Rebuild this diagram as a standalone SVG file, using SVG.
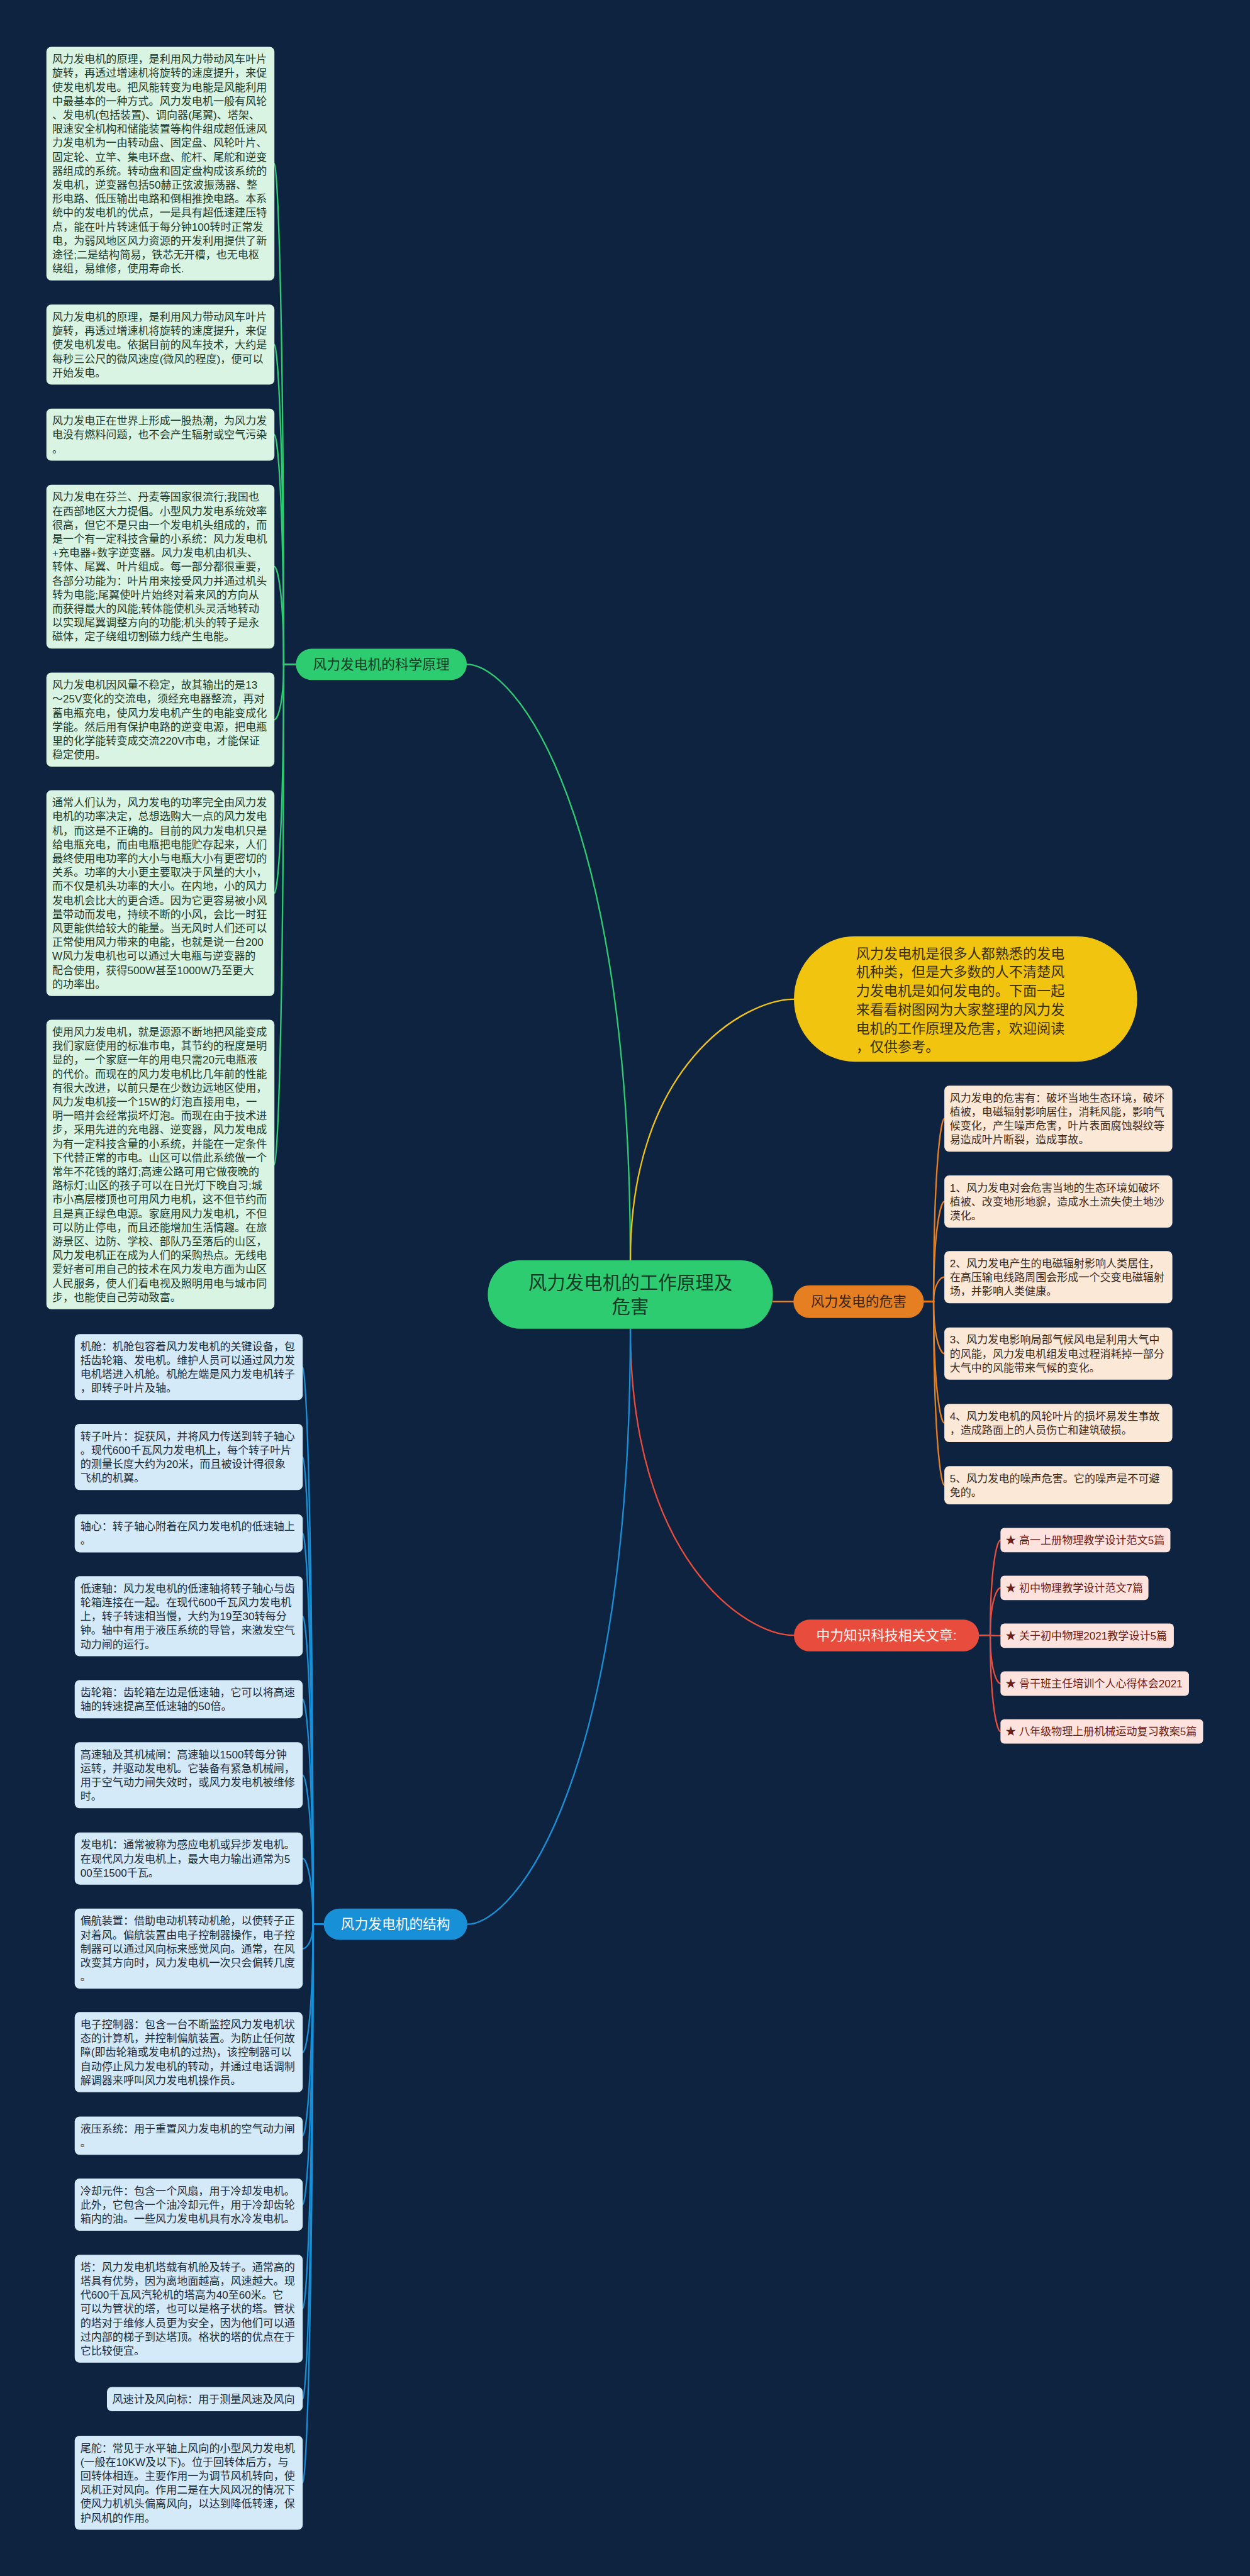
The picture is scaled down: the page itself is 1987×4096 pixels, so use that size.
<svg xmlns="http://www.w3.org/2000/svg" width="1987" height="4096" viewBox="0 0 1987 4096">
<style>
text{font-family:"Liberation Sans","Noto Sans CJK SC",sans-serif}
.c{fill:none;stroke-width:3;stroke-linecap:round}
.cg{stroke:#2ecc71}.cy{stroke:#f1c40f}.co{stroke:#e67e22}.cr{stroke:#e74c3c}.cb{stroke:#1890d8}
.bs{fill:#daf4e4}.bh{fill:#fce8d6}.bt{fill:#d4eaf8}.ba{fill:#fde2dd}
.ts{font-size:22px;fill:#1d3a2a}.th{font-size:22px;fill:#3b2a1c}.tt{font-size:22px;fill:#1b2b3b}.ta{font-size:22px;fill:#6d1b14}
.l1{font-size:28px;text-anchor:middle}
</style>
<rect width="1987" height="4096" fill="#0d2340"/>
<g transform="scale(0.77617)">
<g id="connectors">
<path class="c cg" d="M1291 2582 C1291 1666 1056.5 1361 956 1361"/>
<path class="c cy" d="M1291 2582 C1291 2180.75 1525.5 2047 1626 2047"/>
<path class="c co" d="M1583 2666.5 L1625 2666.5"/>
<path class="c cr" d="M1291 2722 C1291 3193 1525.5 3350 1626 3350"/>
<path class="c cb" d="M1291 2722 C1291 3637 1057 3942 957 3942"/>
<g stroke-width="2.5">
<path class="c cg" d="M606 1361 L581 1361 C581 591.7 567.7 335.3 562 335.3"/>
<path class="c cg" d="M606 1361 L581 1361 C581 869.75 567.7 706 562 706"/>
<path class="c cg" d="M606 1361 L581 1361 C581 1008.05 567.7 890.4 562 890.4"/>
<path class="c cg" d="M606 1361 L581 1361 C581 1210.85 567.7 1160.8 562 1160.8"/>
<path class="c cg" d="M606 1361 L581 1361 C581 1446 567.7 1474.3 562 1474.3"/>
<path class="c cg" d="M606 1361 L581 1361 C581 1712.5 567.7 1829.7 562 1829.7"/>
<path class="c cg" d="M606 1361 L581 1361 C581 2129.4 567.7 2385.5 562 2385.5"/>
<path class="c co" d="M1892 2666.5 L1912 2666.5 C1912 2385.3 1927.4 2291.7 1934 2291.7"/>
<path class="c co" d="M1892 2666.5 L1912 2666.5 C1912 2512.55 1927.4 2461.4 1934 2461.4"/>
<path class="c co" d="M1892 2666.5 L1912 2666.5 C1912 2628.8 1927.4 2616.4 1934 2616.4"/>
<path class="c co" d="M1892 2666.5 L1912 2666.5 C1912 2746.2 1927.4 2772.9 1934 2772.9"/>
<path class="c co" d="M1892 2666.5 L1912 2666.5 C1912 2852.8 1927.4 2915.1 1934 2915.1"/>
<path class="c co" d="M1892 2666.5 L1912 2666.5 C1912 2948.5 1927.4 3042.7 1934 3042.7"/>
<path class="c cr" d="M2005 3350 L2028 3350 C2028 3203.75 2042.7 3155 2049 3155"/>
<path class="c cr" d="M2005 3350 L2028 3350 C2028 3277.25 2042.7 3253 2049 3253"/>
<path class="c cr" d="M2005 3350 L2028 3350 C2028 3350.75 2042.7 3351 2049 3351"/>
<path class="c cr" d="M2005 3350 L2028 3350 C2028 3424.25 2042.7 3449 2049 3449"/>
<path class="c cr" d="M2005 3350 L2028 3350 C2028 3497.75 2042.7 3547 2049 3547"/>
<path class="c cb" d="M663 3942 L641 3942 C641 3086 626.3 2800.7 620 2800.7"/>
<path class="c cb" d="M663 3942 L641 3942 C641 3224 626.3 2984.7 620 2984.7"/>
<path class="c cb" d="M663 3942 L641 3942 C641 3341.3 626.3 3141.1 620 3141.1"/>
<path class="c cb" d="M663 3942 L641 3942 C641 3468.75 626.3 3311 620 3311"/>
<path class="c cb" d="M663 3942 L641 3942 C641 3596.3 626.3 3481.1 620 3481.1"/>
<path class="c cb" d="M663 3942 L641 3942 C641 3713 626.3 3636.7 620 3636.7"/>
<path class="c cb" d="M663 3942 L641 3942 C641 3841.05 626.3 3807.4 620 3807.4"/>
<path class="c cb" d="M663 3942 L641 3942 C641 3979.5 626.3 3992 620 3992"/>
<path class="c cb" d="M663 3942 L641 3942 C641 4138.5 626.3 4204 620 4204"/>
<path class="c cb" d="M663 3942 L641 3942 C641 4266.8 626.3 4375.1 620 4375.1"/>
<path class="c cb" d="M663 3942 L641 3942 C641 4372.8 626.3 4516.4 620 4516.4"/>
<path class="c cb" d="M663 3942 L641 3942 C641 4532.7 626.3 4729.6 620 4729.6"/>
<path class="c cb" d="M663 3942 L641 3942 C641 4671.6 626.3 4914.8 620 4914.8"/>
<path class="c cb" d="M663 3942 L641 3942 C641 4800.2 626.3 5086.3 620 5086.3"/>
</g>
</g>

<g id="node-root">
<rect x="999" y="2582" width="584" height="140" rx="65" ry="70" fill="#2ecc71"/>
<text x="1291" y="2641" font-size="38" text-anchor="middle" fill="#173b26">风力发电机的工作原理及</text>
<text x="1291" y="2690" font-size="38" text-anchor="middle" fill="#173b26">危害</text>
</g>

<g id="node-intro">
<rect x="1626" y="1918" width="703" height="257" rx="125" ry="128" fill="#f1c40f"/>
<text x="1753" y="1963" font-size="28.5" fill="#3a2f00"><tspan x="1753">风力发电机是很多人都熟悉的发电</tspan><tspan x="1753" dy="38.3">机种类，但是大多数的人不清楚风</tspan><tspan x="1753" dy="38.3">力发电机是如何发电的。下面一起</tspan><tspan x="1753" dy="38.3">来看看树图网为大家整理的风力发</tspan><tspan x="1753" dy="38.3">电机的工作原理及危害，欢迎阅读</tspan><tspan x="1753" dy="38.3">，仅供参考。</tspan></text>
</g>

<g id="node-science">
<rect x="606" y="1329" width="350" height="64" rx="32" fill="#2ecc71"/>
<text class="l1" x="781" y="1371" fill="#173b26">风力发电机的科学原理</text>
</g>
<g id="sci-1"><rect class="bs" x="95" y="96" width="467" height="478.6" rx="10"/>
<text class="ts" x="107" y="129"><tspan x="107">风力发电机的原理，是利用风力带动风车叶片</tspan><tspan x="107" dy="28.6">旋转，再透过增速机将旋转的速度提升，来促</tspan><tspan x="107" dy="28.6">使发电机发电。把风能转变为电能是风能利用</tspan><tspan x="107" dy="28.6">中最基本的一种方式。风力发电机一般有风轮</tspan><tspan x="107" dy="28.6">、发电机(包括装置)、调向器(尾翼)、塔架、</tspan><tspan x="107" dy="28.6">限速安全机构和储能装置等构件组成超低速风</tspan><tspan x="107" dy="28.6">力发电机为一由转动盘、固定盘、风轮叶片、</tspan><tspan x="107" dy="28.6">固定轮、立竿、集电环盘、舵杆、尾舵和逆变</tspan><tspan x="107" dy="28.6">器组成的系统。转动盘和固定盘构成该系统的</tspan><tspan x="107" dy="28.6">发电机，逆变器包括50赫正弦波振荡器、整</tspan><tspan x="107" dy="28.6">形电路、低压输出电路和倒相推挽电路。本系</tspan><tspan x="107" dy="28.6">统中的发电机的优点，一是具有超低速建压特</tspan><tspan x="107" dy="28.6">点，能在叶片转速低于每分钟100转时正常发</tspan><tspan x="107" dy="28.6">电，为弱风地区风力资源的开发利用提供了新</tspan><tspan x="107" dy="28.6">途径;二是结构简易，铁芯无开槽，也无电枢</tspan><tspan x="107" dy="28.6">绕组，易维修，使用寿命长.</tspan></text></g>
<g id="sci-2"><rect class="bs" x="95" y="624" width="467" height="164" rx="10"/>
<text class="ts" x="107" y="657"><tspan x="107">风力发电机的原理，是利用风力带动风车叶片</tspan><tspan x="107" dy="28.6">旋转，再透过增速机将旋转的速度提升，来促</tspan><tspan x="107" dy="28.6">使发电机发电。依据目前的风车技术，大约是</tspan><tspan x="107" dy="28.6">每秒三公尺的微风速度(微风的程度)，便可以</tspan><tspan x="107" dy="28.6">开始发电。</tspan></text></g>
<g id="sci-3"><rect class="bs" x="95" y="837" width="467" height="106.8" rx="10"/>
<text class="ts" x="107" y="870"><tspan x="107">风力发电正在世界上形成一股热潮，为风力发</tspan><tspan x="107" dy="28.6">电没有燃料问题，也不会产生辐射或空气污染</tspan><tspan x="107" dy="28.6">。</tspan></text></g>
<g id="sci-4"><rect class="bs" x="95" y="993" width="467" height="335.6" rx="10"/>
<text class="ts" x="107" y="1026"><tspan x="107">风力发电在芬兰、丹麦等国家很流行;我国也</tspan><tspan x="107" dy="28.6">在西部地区大力提倡。小型风力发电系统效率</tspan><tspan x="107" dy="28.6">很高，但它不是只由一个发电机头组成的，而</tspan><tspan x="107" dy="28.6">是一个有一定科技含量的小系统：风力发电机</tspan><tspan x="107" dy="28.6">+充电器+数字逆变器。风力发电机由机头、</tspan><tspan x="107" dy="28.6">转体、尾翼、叶片组成。每一部分都很重要，</tspan><tspan x="107" dy="28.6">各部分功能为：叶片用来接受风力并通过机头</tspan><tspan x="107" dy="28.6">转为电能;尾翼使叶片始终对着来风的方向从</tspan><tspan x="107" dy="28.6">而获得最大的风能;转体能使机头灵活地转动</tspan><tspan x="107" dy="28.6">以实现尾翼调整方向的功能;机头的转子是永</tspan><tspan x="107" dy="28.6">磁体，定子绕组切割磁力线产生电能。</tspan></text></g>
<g id="sci-5"><rect class="bs" x="95" y="1378" width="467" height="192.6" rx="10"/>
<text class="ts" x="107" y="1411"><tspan x="107">风力发电机因风量不稳定，故其输出的是13</tspan><tspan x="107" dy="28.6">～25V变化的交流电，须经充电器整流，再对</tspan><tspan x="107" dy="28.6">蓄电瓶充电，使风力发电机产生的电能变成化</tspan><tspan x="107" dy="28.6">学能。然后用有保护电路的逆变电源，把电瓶</tspan><tspan x="107" dy="28.6">里的化学能转变成交流220V市电，才能保证</tspan><tspan x="107" dy="28.6">稳定使用。</tspan></text></g>
<g id="sci-6"><rect class="bs" x="95" y="1619" width="467" height="421.4" rx="10"/>
<text class="ts" x="107" y="1652"><tspan x="107">通常人们认为，风力发电的功率完全由风力发</tspan><tspan x="107" dy="28.6">电机的功率决定，总想选购大一点的风力发电</tspan><tspan x="107" dy="28.6">机，而这是不正确的。目前的风力发电机只是</tspan><tspan x="107" dy="28.6">给电瓶充电，而由电瓶把电能贮存起来，人们</tspan><tspan x="107" dy="28.6">最终使用电功率的大小与电瓶大小有更密切的</tspan><tspan x="107" dy="28.6">关系。功率的大小更主要取决于风量的大小，</tspan><tspan x="107" dy="28.6">而不仅是机头功率的大小。在内地，小的风力</tspan><tspan x="107" dy="28.6">发电机会比大的更合适。因为它更容易被小风</tspan><tspan x="107" dy="28.6">量带动而发电，持续不断的小风，会比一时狂</tspan><tspan x="107" dy="28.6">风更能供给较大的能量。当无风时人们还可以</tspan><tspan x="107" dy="28.6">正常使用风力带来的电能，也就是说一台200</tspan><tspan x="107" dy="28.6">W风力发电机也可以通过大电瓶与逆变器的</tspan><tspan x="107" dy="28.6">配合使用，获得500W甚至1000W乃至更大</tspan><tspan x="107" dy="28.6">的功率出。</tspan></text></g>
<g id="sci-7"><rect class="bs" x="95" y="2089" width="467" height="593" rx="10"/>
<text class="ts" x="107" y="2122"><tspan x="107">使用风力发电机，就是源源不断地把风能变成</tspan><tspan x="107" dy="28.6">我们家庭使用的标准市电，其节约的程度是明</tspan><tspan x="107" dy="28.6">显的，一个家庭一年的用电只需20元电瓶液</tspan><tspan x="107" dy="28.6">的代价。而现在的风力发电机比几年前的性能</tspan><tspan x="107" dy="28.6">有很大改进，以前只是在少数边远地区使用，</tspan><tspan x="107" dy="28.6">风力发电机接一个15W的灯泡直接用电，一</tspan><tspan x="107" dy="28.6">明一暗并会经常损坏灯泡。而现在由于技术进</tspan><tspan x="107" dy="28.6">步，采用先进的充电器、逆变器，风力发电成</tspan><tspan x="107" dy="28.6">为有一定科技含量的小系统，并能在一定条件</tspan><tspan x="107" dy="28.6">下代替正常的市电。山区可以借此系统做一个</tspan><tspan x="107" dy="28.6">常年不花钱的路灯;高速公路可用它做夜晚的</tspan><tspan x="107" dy="28.6">路标灯;山区的孩子可以在日光灯下晚自习;城</tspan><tspan x="107" dy="28.6">市小高层楼顶也可用风力电机，这不但节约而</tspan><tspan x="107" dy="28.6">且是真正绿色电源。家庭用风力发电机，不但</tspan><tspan x="107" dy="28.6">可以防止停电，而且还能增加生活情趣。在旅</tspan><tspan x="107" dy="28.6">游景区、边防、学校、部队乃至落后的山区，</tspan><tspan x="107" dy="28.6">风力发电机正在成为人们的采购热点。无线电</tspan><tspan x="107" dy="28.6">爱好者可用自己的技术在风力发电方面为山区</tspan><tspan x="107" dy="28.6">人民服务，使人们看电视及照明用电与城市同</tspan><tspan x="107" dy="28.6">步，也能使自己劳动致富。</tspan></text></g>

<g id="node-harm">
<rect x="1625" y="2633" width="267" height="67" rx="33" fill="#e67e22"/>
<text class="l1" x="1758.5" y="2676" fill="#3b2410">风力发电的危害</text>
</g>
<g id="harm-1"><rect class="bh" x="1934" y="2224" width="467" height="135.4" rx="10"/>
<text class="th" x="1945" y="2257"><tspan x="1945">风力发电的危害有：破坏当地生态环境，破坏</tspan><tspan x="1945" dy="28.6">植被，电磁辐射影响居住，消耗风能，影响气</tspan><tspan x="1945" dy="28.6">候变化，产生噪声危害，叶片表面腐蚀裂纹等</tspan><tspan x="1945" dy="28.6">易造成叶片断裂，造成事故。</tspan></text></g>
<g id="harm-2"><rect class="bh" x="1934" y="2408" width="467" height="106.8" rx="10"/>
<text class="th" x="1945" y="2441"><tspan x="1945">1、风力发电对会危害当地的生态环境如破坏</tspan><tspan x="1945" dy="28.6">植被、改变地形地貌，造成水土流失使土地沙</tspan><tspan x="1945" dy="28.6">漠化。</tspan></text></g>
<g id="harm-3"><rect class="bh" x="1934" y="2563" width="467" height="106.8" rx="10"/>
<text class="th" x="1945" y="2596"><tspan x="1945">2、风力发电产生的电磁辐射影响人类居住，</tspan><tspan x="1945" dy="28.6">在高压输电线路周围会形成一个交变电磁辐射</tspan><tspan x="1945" dy="28.6">场，并影响人类健康。</tspan></text></g>
<g id="harm-4"><rect class="bh" x="1934" y="2719.5" width="467" height="106.8" rx="10"/>
<text class="th" x="1945" y="2752.5"><tspan x="1945">3、风力发电影响局部气候风电是利用大气中</tspan><tspan x="1945" dy="28.6">的风能，风力发电机组发电过程消耗掉一部分</tspan><tspan x="1945" dy="28.6">大气中的风能带来气候的变化。</tspan></text></g>
<g id="harm-5"><rect class="bh" x="1934" y="2876" width="467" height="78.2" rx="10"/>
<text class="th" x="1945" y="2909"><tspan x="1945">4、风力发电机的风轮叶片的损坏易发生事故</tspan><tspan x="1945" dy="28.6">，造成路面上的人员伤亡和建筑破损。</tspan></text></g>
<g id="harm-6"><rect class="bh" x="1934" y="3003.6" width="467" height="78.2" rx="10"/>
<text class="th" x="1945" y="3036.6"><tspan x="1945">5、风力发电的噪声危害。它的噪声是不可避</tspan><tspan x="1945" dy="28.6">免的。</tspan></text></g>

<g id="node-articles">
<rect x="1626" y="3318" width="379" height="65" rx="32" fill="#e74c3c"/>
<text class="l1" x="1815.5" y="3360" fill="#fff4f2">中力知识科技相关文章:</text>
</g>
<g id="art-1"><rect class="ba" x="2049" y="3130" width="348" height="50" rx="8"/><text class="ta" x="2059" y="3163">★ 高一上册物理教学设计范文5篇</text></g>
<g id="art-2"><rect class="ba" x="2049" y="3228" width="303" height="50" rx="8"/><text class="ta" x="2059" y="3261">★ 初中物理教学设计范文7篇</text></g>
<g id="art-3"><rect class="ba" x="2049" y="3326" width="355" height="50" rx="8"/><text class="ta" x="2059" y="3359">★ 关于初中物理2021教学设计5篇</text></g>
<g id="art-4"><rect class="ba" x="2049" y="3424" width="386" height="50" rx="8"/><text class="ta" x="2059" y="3457">★ 骨干班主任培训个人心得体会2021</text></g>
<g id="art-5"><rect class="ba" x="2049" y="3522" width="415" height="50" rx="8"/><text class="ta" x="2059" y="3555">★ 八年级物理上册机械运动复习教案5篇</text></g>

<g id="node-structure">
<rect x="663" y="3910" width="294" height="64" rx="32" fill="#1890d8"/>
<text class="l1" x="810" y="3952" fill="#ffffff">风力发电机的结构</text>
</g>
<g id="st-1"><rect class="bt" x="153" y="2733" width="467" height="135.4" rx="10"/>
<text class="tt" x="164.5" y="2766"><tspan x="164.5">机舱：机舱包容着风力发电机的关键设备，包</tspan><tspan x="164.5" dy="28.6">括齿轮箱、发电机。维护人员可以通过风力发</tspan><tspan x="164.5" dy="28.6">电机塔进入机舱。机舱左端是风力发电机转子</tspan><tspan x="164.5" dy="28.6">，即转子叶片及轴。</tspan></text></g>
<g id="st-2"><rect class="bt" x="153" y="2917" width="467" height="135.4" rx="10"/>
<text class="tt" x="164.5" y="2950"><tspan x="164.5">转子叶片：捉获风，并将风力传送到转子轴心</tspan><tspan x="164.5" dy="28.6">。现代600千瓦风力发电机上，每个转子叶片</tspan><tspan x="164.5" dy="28.6">的测量长度大约为20米，而且被设计得很象</tspan><tspan x="164.5" dy="28.6">飞机的机翼。</tspan></text></g>
<g id="st-3"><rect class="bt" x="153" y="3102" width="467" height="78.2" rx="10"/>
<text class="tt" x="164.5" y="3135"><tspan x="164.5">轴心：转子轴心附着在风力发电机的低速轴上</tspan><tspan x="164.5" dy="28.6">。</tspan></text></g>
<g id="st-4"><rect class="bt" x="153" y="3229" width="467" height="164" rx="10"/>
<text class="tt" x="164.5" y="3262"><tspan x="164.5">低速轴：风力发电机的低速轴将转子轴心与齿</tspan><tspan x="164.5" dy="28.6">轮箱连接在一起。在现代600千瓦风力发电机</tspan><tspan x="164.5" dy="28.6">上，转子转速相当慢，大约为19至30转每分</tspan><tspan x="164.5" dy="28.6">钟。轴中有用于液压系统的导管，来激发空气</tspan><tspan x="164.5" dy="28.6">动力闸的运行。</tspan></text></g>
<g id="st-5"><rect class="bt" x="153" y="3442" width="467" height="78.2" rx="10"/>
<text class="tt" x="164.5" y="3475"><tspan x="164.5">齿轮箱：齿轮箱左边是低速轴，它可以将高速</tspan><tspan x="164.5" dy="28.6">轴的转速提高至低速轴的50倍。</tspan></text></g>
<g id="st-6"><rect class="bt" x="153" y="3569" width="467" height="135.4" rx="10"/>
<text class="tt" x="164.5" y="3602"><tspan x="164.5">高速轴及其机械闸：高速轴以1500转每分钟</tspan><tspan x="164.5" dy="28.6">运转，并驱动发电机。它装备有紧急机械闸，</tspan><tspan x="164.5" dy="28.6">用于空气动力闸失效时，或风力发电机被维修</tspan><tspan x="164.5" dy="28.6">时。</tspan></text></g>
<g id="st-7"><rect class="bt" x="153" y="3754" width="467" height="106.8" rx="10"/>
<text class="tt" x="164.5" y="3787"><tspan x="164.5">发电机：通常被称为感应电机或异步发电机。</tspan><tspan x="164.5" dy="28.6">在现代风力发电机上，最大电力输出通常为5</tspan><tspan x="164.5" dy="28.6">00至1500千瓦。</tspan></text></g>
<g id="st-8"><rect class="bt" x="153" y="3910" width="467" height="164" rx="10"/>
<text class="tt" x="164.5" y="3943"><tspan x="164.5">偏航装置：借助电动机转动机舱，以使转子正</tspan><tspan x="164.5" dy="28.6">对着风。偏航装置由电子控制器操作，电子控</tspan><tspan x="164.5" dy="28.6">制器可以通过风向标来感觉风向。通常，在风</tspan><tspan x="164.5" dy="28.6">改变其方向时，风力发电机一次只会偏转几度</tspan><tspan x="164.5" dy="28.6">。</tspan></text></g>
<g id="st-9"><rect class="bt" x="153" y="4122" width="467" height="164" rx="10"/>
<text class="tt" x="164.5" y="4155"><tspan x="164.5">电子控制器：包含一台不断监控风力发电机状</tspan><tspan x="164.5" dy="28.6">态的计算机，并控制偏航装置。为防止任何故</tspan><tspan x="164.5" dy="28.6">障(即齿轮箱或发电机的过热)，该控制器可以</tspan><tspan x="164.5" dy="28.6">自动停止风力发电机的转动，并通过电话调制</tspan><tspan x="164.5" dy="28.6">解调器来呼叫风力发电机操作员。</tspan></text></g>
<g id="st-10"><rect class="bt" x="153" y="4336" width="467" height="78.2" rx="10"/>
<text class="tt" x="164.5" y="4369"><tspan x="164.5">液压系统：用于重置风力发电机的空气动力闸</tspan><tspan x="164.5" dy="28.6">。</tspan></text></g>
<g id="st-11"><rect class="bt" x="153" y="4463" width="467" height="106.8" rx="10"/>
<text class="tt" x="164.5" y="4496"><tspan x="164.5">冷却元件：包含一个风扇，用于冷却发电机。</tspan><tspan x="164.5" dy="28.6">此外，它包含一个油冷却元件，用于冷却齿轮</tspan><tspan x="164.5" dy="28.6">箱内的油。一些风力发电机具有水冷发电机。</tspan></text></g>
<g id="st-12"><rect class="bt" x="153" y="4619" width="467" height="221.2" rx="10"/>
<text class="tt" x="164.5" y="4652"><tspan x="164.5">塔：风力发电机塔载有机舱及转子。通常高的</tspan><tspan x="164.5" dy="28.6">塔具有优势，因为离地面越高，风速越大。现</tspan><tspan x="164.5" dy="28.6">代600千瓦风汽轮机的塔高为40至60米。它</tspan><tspan x="164.5" dy="28.6">可以为管状的塔，也可以是格子状的塔。管状</tspan><tspan x="164.5" dy="28.6">的塔对于维修人员更为安全，因为他们可以通</tspan><tspan x="164.5" dy="28.6">过内部的梯子到达塔顶。格状的塔的优点在于</tspan><tspan x="164.5" dy="28.6">它比较便宜。</tspan></text></g>
<g id="st-13"><rect class="bt" x="219" y="4890" width="401" height="49.6" rx="10"/>
<text class="tt" x="230" y="4923">风速计及风向标：用于测量风速及风向</text></g>
<g id="st-14"><rect class="bt" x="153" y="4990" width="467" height="192.6" rx="10"/>
<text class="tt" x="164.5" y="5023"><tspan x="164.5">尾舵：常见于水平轴上风向的小型风力发电机</tspan><tspan x="164.5" dy="28.6">(一般在10KW及以下)。位于回转体后方，与</tspan><tspan x="164.5" dy="28.6">回转体相连。主要作用一为调节风机转向，使</tspan><tspan x="164.5" dy="28.6">风机正对风向。作用二是在大风风况的情况下</tspan><tspan x="164.5" dy="28.6">使风力机机头偏离风向，以达到降低转速，保</tspan><tspan x="164.5" dy="28.6">护风机的作用。</tspan></text></g>
</g>
</svg>
